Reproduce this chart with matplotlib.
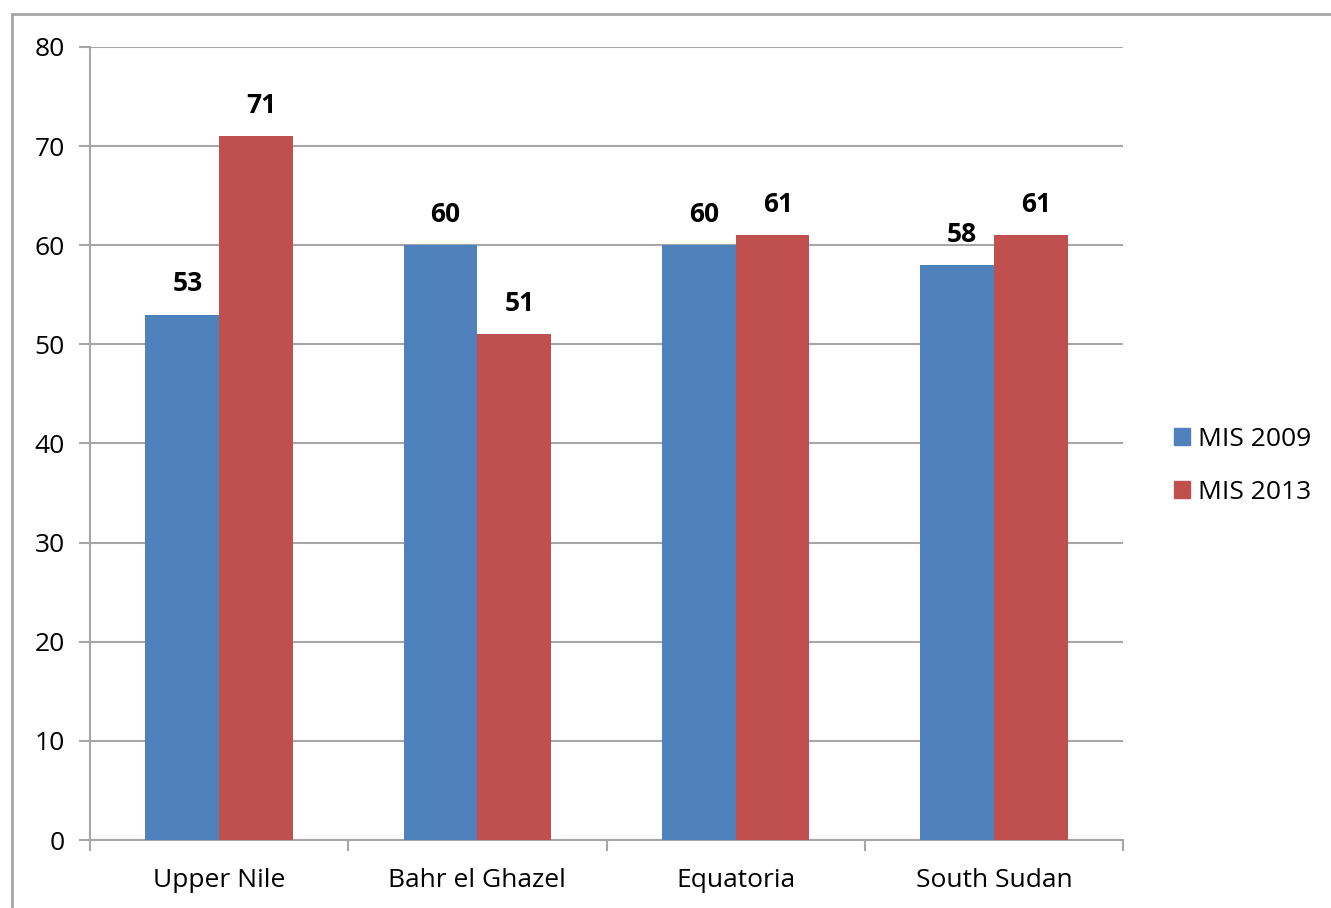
import numpy as np
import matplotlib.pyplot as plt
from matplotlib.patches import Patch
from matplotlib.lines import Line2D

categories = ["Upper Nile", "Bahr el Ghazel", "Equatoria", "South Sudan"]
mis_2009 = [53, 60, 60, 58]
mis_2013 = [71, 51, 61, 61]
series_names = ["MIS 2009", "MIS 2013"]
yticks = [0, 10, 20, 30, 40, 50, 60, 70, 80]

BLUE = "#4F81BD"
RED = "#C0504D"
GRID = "#a6a6a6"

plt.rcParams['font.family'] = ['Open Sans', 'DejaVu Sans']

fig = plt.figure(figsize=(13.31, 9.08), dpi=100)
ax = fig.add_axes([90 / 1331, 1 - 840 / 908, (1123 - 90) / 1331, (840 - 47) / 908])

# outer chart frame (top and left edges visible)
fig.add_artist(Line2D([12 / 1331, 12 / 1331], [0, 1 - 14 / 908], transform=fig.transFigure, color=GRID, lw=2))
fig.add_artist(Line2D([12 / 1331, 1], [1 - 14 / 908, 1 - 14 / 908], transform=fig.transFigure, color=GRID, lw=2))

x = np.arange(len(categories))
w = 0.286
b1 = ax.bar(x - w / 2, mis_2009, w, color=BLUE, zorder=3)
b2 = ax.bar(x + w / 2, mis_2013, w, color=RED, zorder=3)

for bars in (b1, b2):
    for r in bars:
        ax.text(r.get_x() + r.get_width() / 2 + 0.02, r.get_height() + 3.1, f"{int(r.get_height())}",
                ha="center", va="center", fontsize=19, fontweight="bold")

ax.set_ylim(0, 80)
ax.set_xlim(-0.5, len(categories) - 0.5)
ax.set_yticks(yticks)
ax.yaxis.grid(True, color=GRID, lw=1.5, zorder=0)
ax.set_axisbelow(True)

ax.set_xticks(np.arange(len(categories) + 1) - 0.5)
ax.set_xticklabels([])
ax.set_xticks(x, minor=True)
ax.set_xticklabels(categories, minor=True, fontsize=19)
ax.tick_params(axis="x", which="minor", length=0, pad=20)
ax.tick_params(axis="x", which="major", length=8, color=GRID, width=1.5)
ax.tick_params(axis="y", length=8, color=GRID, width=1.5, labelsize=19, pad=10)

for s in ("top", "right"):
    ax.spines[s].set_visible(False)
for s in ("left", "bottom"):
    ax.spines[s].set_color(GRID)
    ax.spines[s].set_linewidth(1.5)

handles = [Patch(color=BLUE), Patch(color=RED)]
fig.legend(handles, series_names, loc="center left", bbox_to_anchor=(1150 / 1331, 1 - 466 / 908),
           frameon=False, fontsize=19, handlelength=0.6, handleheight=0.6, handletextpad=0.3,
           labelspacing=1.05)

plt.savefig("out.png", dpi=100)
